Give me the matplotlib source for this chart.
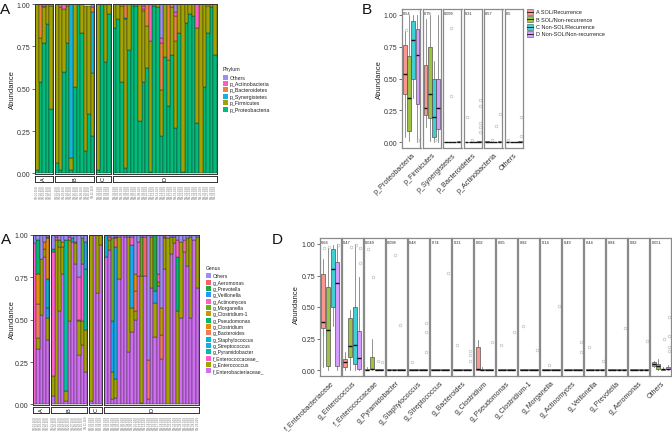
import matplotlib
matplotlib.use("Agg")
import matplotlib.pyplot as plt
from matplotlib.patches import Rectangle
from matplotlib.colors import to_rgba
import numpy as np

plt.rcParams['font.family'] = ['Liberation Sans', 'DejaVu Sans']

# ---------------- data ----------------
GROUPS = ["A", "B", "C", "D"]
GROUP_SIZES = [5, 11, 4, 29]
SAMPLES = ["SR.01.16S", "SR.02.16S", "SR.03.16S", "SR.04.16S", "SR.05.16S",
           "SN.01.16S", "SN.02.16S", "SN.03.16S", "SN.04.16S", "SN.05.16S", "SN.06.16S",
           "SN.07.16S", "SN.08.16S", "SN.09.16S", "SN.10.16S", "SN.11.16S",
           "NR.01.16S", "NR.02.16S", "NR.03.16S", "NR.04.16S",
           "NN.01.16S", "NN.02.16S", "NN.03.16S", "NN.04.16S", "NN.05.16S", "NN.06.16S",
           "NN.07.16S", "NN.08.16S", "NN.09.16S", "NN.10.16S", "NN.11.16S", "NN.12.16S",
           "NN.13.16S", "NN.14.16S", "NN.15.16S", "NN.16.16S", "NN.17.16S", "NN.18.16S",
           "NN.19.16S", "NN.20.16S", "NN.21.16S", "NN.22.16S", "NN.23.16S", "NN.24.16S",
           "NN.25.16S", "NN.26.16S", "NN.27.16S", "NN.28.16S", "NN.29.16S"]

# Phylum relative abundance per sample (groups A | B | C | D)
p_Proteobacteria = [.02, .54, .77, .88, .38,
                    .06, .02, .60, .77, .02, .51, 1.0, .83, .13, .35, .22,
                    .02, 1.0, .66, .94,
                    .86, .91, .54, .03, .73, 1.0, .99, .31, .54, .62, .01, .99, .98, .22, .69,
                    .40, .70, .27, .83, .01, .89, .94, .93, .30, 0, .51, .83, .98, .70]
p_Firmicutes = [.98, .26, .21, .12, .61,
                .94, .96, .37, .22, .07, .49, 0, .17, .86, .64, .37,
                .98, 0, .34, .06,
                .14, .09, .45, .88, .27, 0, .01, .69, .42, .25, .77, .01, .02, .27, .31,
                .27, .28, .51, .17, .99, .11, .06, .07, .56, 1.0, .49, .16, .02, .30]
p_Synergistetes = [0, 0, 0, 0, 0,
                   0, 0, 0, 0, .91, 0, 0, 0, 0, 0, .36,
                   0, 0, 0, 0,
                   0, 0, 0, .01, 0, 0, 0, 0, 0, 0, 0, 0, 0, 0, 0,
                   0, 0, 0, 0, 0, 0, 0, 0, 0, 0, 0, 0, 0, 0]
p_Bacteroidetes = [0, .20, 0, 0, 0,
                   0, 0, 0, 0, 0, 0, 0, 0, 0, 0, .03,
                   0, 0, 0, 0,
                   0, 0, 0, .08, 0, 0, 0, 0, .01, .13, 0, 0, 0, .28, 0,
                   .33, .02, .15, 0, 0, 0, 0, 0, 0, 0, 0, 0, 0, 0]
p_Actinobacteria = [0, 0, .01, 0, 0,
                    0, .02, .03, 0, 0, 0, 0, 0, 0, 0, 0,
                    0, 0, 0, 0,
                    0, 0, 0, 0, 0, 0, 0, 0, .02, 0, .22, 0, 0, .03, 0,
                    0, 0, .02, 0, 0, 0, 0, 0, .14, 0, 0, 0, 0, 0]
p_Others = [0, 0, .01, 0, .01,
            0, 0, 0, .01, 0, 0, 0, 0, 0, 0, .02,
            0, 0, 0, 0,
            0, 0, .01, 0, 0, 0, 0, 0, .01, 0, 0, 0, 0, .20, 0,
            0, 0, .05, 0, 0, 0, 0, 0, 0, 0, 0, .01, 0, 0]

PHYLA = ["p_Proteobacteria", "p_Firmicutes", "p_Synergistetes",
         "p_Bacteroidetes", "p_Actinobacteria", "Others"]
PHYLUM_VALUES = [p_Proteobacteria, p_Firmicutes, p_Synergistetes,
                 p_Bacteroidetes, p_Actinobacteria, p_Others]
PHYLUM_COLORS = ["#00BC7A", "#A2A200", "#14B4DA", "#EE8238", "#FF5EC0", "#9D8EF4"]

# Genus relative abundance per sample
g_Enterobacteriaceae = [0, .33, .53, .87, .38,
                        .05, 0, .55, .77, .02, .49, .96, .83, .29, .35, .19,
                        .02, 1.0, .66, .94,
                        .87, .91, .03, .04, .74, 1.0, .99, .31, .43, .50, .76, .01, .76, .03, .69,
                        .40, .70, .27, .80, 0, .89, .95, 0, .51, .90, .82, .51, .97, .69]
g_Enterococcus = [0, .06, .33, .05, .13,
                  .12, .97, .38, .16, .06, .48, 0, .12, .20, .14, .25,
                  .98, 0, .34, .06,
                  0, .06, .16, .11, .25, 0, 0, .68, .14, .05, 0, .75, 0, 0, .30,
                  .20, .02, 0, .18, .98, .10, .04, .55, .45, 0, .16, .48, 0, .30]
g_Enterococcaceae = [.95, 0, 0, 0, 0,
                     .73, 0, 0, 0, 0, 0, 0, 0, 0, .34, 0,
                     0, 0, 0, 0,
                     0, 0, 0, 0, 0, 0, 0, 0, 0, 0, 0, 0, 0, 0, 0,
                     0, 0, 0, 0, 0, 0, 0, 0, 0, 0, 0, 0, 0, 0]
g_Pyramidobacter = [0, 0, 0, 0, 0,
                    0, 0, 0, 0, .89, 0, 0, 0, 0, 0, .36,
                    0, 0, 0, 0,
                    0, 0, 0, 0, 0, 0, 0, 0, 0, 0, 0, 0, 0, 0, 0,
                    0, 0, 0, 0, 0, 0, 0, 0, 0, 0, 0, 0, 0, 0]
g_Streptococcus = [0, 0, 0, 0, .06,
                   0, 0, 0, 0, 0, 0, 0, 0, 0, 0, .16,
                   0, 0, 0, 0,
                   0, 0, .30, .78, 0, 0, 0, 0, .37, 0, 0, 0, 0, 0, 0,
                   .07, 0, 0, 0, 0, 0, 0, 0, 0, 0, 0, 0, 0, 0]
g_Staphylococcus = [0, 0, 0, 0, .17,
                    0, 0, 0, 0, 0, 0, .02, 0, 0, 0, 0,
                    0, 0, 0, 0,
                    .13, 0, 0, 0, 0, 0, 0, 0, 0, 0, 0, 0, 0, 0, 0,
                    0, 0, 0, 0, 0, 0, 0, 0, 0, 0, 0, 0, 0, 0]
g_Bacteroides = [0, .20, 0, 0, 0,
                 0, 0, 0, 0, 0, 0, 0, .01, 0, 0, 0,
                 0, 0, 0, 0,
                 0, 0, 0, .05, 0, 0, 0, 0, 0, .12, 0, 0, 0, .23, 0,
                 0, 0, .14, 0, 0, 0, 0, 0, 0, 0, 0, 0, 0, 0]
g_Clostridium = [0, .18, 0, .04, .24,
                 0, 0, 0, .03, 0, 0, 0, 0, 0, 0, 0,
                 0, 0, 0, 0,
                 0, 0, 0, 0, 0, 0, 0, 0, 0, .10, 0, 0, 0, 0, 0,
                 0, 0, 0, 0, 0, 0, 0, 0, 0, 0, 0, 0, 0, 0]
g_Pseudomonas = [0, .20, 0, 0, 0,
                 .02, 0, 0, 0, 0, 0, 0, 0, 0, 0, 0,
                 0, 0, 0, 0,
                 0, 0, 0, .01, 0, 0, 0, 0, 0, 0, 0, 0, 0, 0, 0,
                 0, 0, 0, 0, 0, 0, 0, .32, 0, 0, 0, 0, 0, 0]
g_Clostridium1 = [0, 0, 0, 0, 0,
                  0, 0, 0, 0, 0, 0, 0, 0, .01, 0, 0,
                  0, 0, 0, 0,
                  0, 0, 0, 0, 0, 0, 0, 0, 0, 0, 0, 0, 0, 0, 0,
                  0, 0, .16, 0, 0, 0, 0, 0, 0, 0, 0, 0, 0, 0]
g_Morganella = [0, 0, 0, 0, 0,
                0, 0, .04, 0, 0, 0, 0, 0, 0, .15, 0,
                0, 0, 0, 0,
                0, 0, .49, 0, 0, 0, 0, 0, 0, 0, 0, .23, 0, 0, 0,
                0, 0, 0, 0, 0, 0, 0, 0, 0, 0, 0, 0, 0, 0]
g_Actinomyces = [0, 0, 0, 0, 0,
                 0, 0, 0, 0, 0, .02, 0, 0, .25, 0, 0,
                 0, 0, 0, 0,
                 0, 0, 0, 0, 0, 0, 0, 0, .05, 0, .20, 0, 0, 0, 0,
                 0, .05, 0, .01, 0, 0, 0, .10, 0, .07, 0, 0, 0, 0]
g_Veillonella = [0, 0, 0, 0, .01,
                 0, 0, 0, 0, 0, 0, 0, 0, 0, 0, 0,
                 0, 0, 0, 0,
                 0, 0, 0, 0, 0, 0, 0, 0, 0, 0, 0, 0, 0, 0, 0,
                 0, 0, 0, 0, 0, 0, 0, 0, 0, 0, 0, 0, 0, 0]
g_Prevotella = [0, 0, 0, 0, 0,
                0, 0, 0, 0, 0, 0, 0, 0, 0, 0, 0,
                0, 0, 0, 0,
                0, 0, 0, 0, 0, 0, 0, 0, 0, 0, 0, 0, 0, 0, 0,
                .33, 0, 0, 0, 0, 0, 0, 0, 0, 0, 0, 0, 0, 0]
g_Aeromonas = [0, 0, 0, 0, 0,
               0, .02, 0, 0, 0, 0, 0, 0, 0, 0, 0,
               0, 0, 0, 0,
               0, .02, 0, 0, 0, 0, 0, 0, 0, 0, 0, 0, .23, 0, 0,
               0, 0, 0, .01, 0, 0, 0, 0, 0, 0, 0, 0, 0, 0]
g_Others = [.05, .03, .14, .04, .01,
            .08, .01, .03, .04, .03, .01, .02, .04, .25, .02, .04,
            0, 0, 0, 0,
            0, .01, .02, .01, .01, 0, .01, .01, .01, .23, .04, .01, .01, .74, .01,
            0, .23, .43, 0, .02, .01, .01, .03, .04, .03, .02, .01, .03, .01]

GENERA = ["f_Enterobacteriaceae_", "g_Enterococcus", "f_Enterococcaceae_", "g_Pyramidobacter",
          "g_Streptococcus", "g_Staphylococcus", "g_Bacteroides", "g_Clostridium",
          "g_Pseudomonas", "g_Clostridium-1", "g_Morganella", "g_Actinomyces",
          "g_Veillonella", "g_Prevotella", "g_Aeromonas", "Others"]
GENUS_VALUES = [g_Enterobacteriaceae, g_Enterococcus, g_Enterococcaceae, g_Pyramidobacter,
                g_Streptococcus, g_Staphylococcus, g_Bacteroides, g_Clostridium,
                g_Pseudomonas, g_Clostridium1, g_Morganella, g_Actinomyces,
                g_Veillonella, g_Prevotella, g_Aeromonas, g_Others]
GENUS_COLORS = ["#D06EF2", "#A3A300", "#FF5FCF", "#00C0A0",
                "#17A9EC", "#00B9CF", "#F2795E", "#E88A10",
                "#00B96E", "#C59A00", "#6AAE1E", "#FF5FBE",
                "#2A95FF", "#21A84A", "#F4646E", "#9C8DF6"]

# Box plot panels
BOX_GROUP_LABELS = ["A SOL/Recurrence", "B SOL/Non-recurrence",
                    "C Non-SOL/Recurrence", "D Non-SOL/Non-recurrence"]
BOX_COLORS = ["#F8766D", "#7CAE00", "#00BFC4", "#C77CFF"]

B_FACETS = ["p_Proteobacteria", "p_Firmicutes", "p_Synergistetes",
            "p_Bacteroidetes", "p_Actinobacteria", "Others"]
B_PVALUES = ["0.54", "0.79", "0.099", "0.31", "0.57", "0.5"]
# per group: [q1, median, q3, whisker_low, whisker_high] per facet
B_STATS = {
    "A": [[.38, .535, .76, .04, .87], [.21, .27, .61, .12, .97], [0, 0, .004, 0, .004],
          [0, 0, .004, 0, .004], [0, .004, .008, 0, .01], [0, 0, .004, 0, .004]],
    "B": [[.09, .35, .68, .01, 1.0], [.19, .375, .75, .01, 1.0], [0, 0, .004, 0, .004],
          [0, 0, .004, 0, .004], [0, 0, .004, 0, .004], [0, 0, .004, 0, .004]],
    "C": [[.50, .80, .95, .35, 1.0], [.04, .195, .50, 0, .64], [0, 0, .004, 0, .004],
          [0, 0, .004, 0, .004], [0, 0, .004, 0, .004], [0, 0, .004, 0, .004]],
    "D": [[.30, .685, .89, 0, 1.0], [.10, .27, .50, 0, 1.0], [0, 0, .006, 0, .006],
          [0, 0, .008, 0, .01], [0, 0, .008, 0, .01], [0, 0, .008, 0, .01]],
}
# outlying points: (facet, group, value)
B_POINTS = [(0, 0, .88), (0, 3, .02), (1, 2, .02), (2, 1, .90), (2, 1, .36),
            (3, 0, .20), (3, 3, .33), (3, 3, .28), (3, 3, .15), (3, 3, .12), (3, 3, .08),
            (3, 1, .02), (4, 3, .22), (4, 2, .13), (4, 1, .02), (5, 3, .20), (5, 3, .05),
            (5, 0, .02)]

D_FACETS = ["f_Enterobacteriaceae", "g_Enterococcus", "f_Enterococcaceae", "g_Pyramidobacter",
            "g_Staphylococcus", "g_Streptococcus", "g_Bacteroides", "g_Clostridium",
            "g_Pseudomonas", "g_Clostridium-1", "g_Morganella", "g_Actinomyces",
            "g_Veillonella", "g_Prevotella", "g_Aeromonas", "Others"]
D_PVALUES = ["0.66", "0.47", "0.049", "0.098", "0.48", "0.74", "0.31", "0.02",
             "0.65", "0.82", "0.14", "0.49", "0.44", "0.84", "0.82", "0.051"]
Z = [0, 0, .004, 0, .004]
D_STATS = {
    "A": [[.33, .38, .76, .02, .88], [.02, .065, .09, 0, .14], [0, 0, .01, 0, .02], Z, Z, Z, Z,
          [0, .005, .18, 0, .24], Z, Z, Z, Z, Z, Z, Z, [.035, .047, .06, .02, .075]],
    "B": [[.03, .32, .66, 0, .97], [.10, .19, .41, 0, .48], [.01, .01, .10, 0, .25], Z, Z, Z, Z,
          [0, 0, .01, 0, .02], Z, Z, Z, Z, Z, Z, Z, [.01, .035, .05, 0, .09]],
    "C": [[.50, .80, .96, .35, .99], [.05, .20, .50, 0, 1.0], Z, Z, Z, Z, Z,
          Z, Z, Z, Z, Z, Z, Z, Z, [0, .005, .01, 0, .02]],
    "D": [[.03, .69, .86, 0, 1.0], [.01, .095, .31, 0, .74], Z, Z, Z, Z, Z,
          Z, Z, Z, Z, Z, Z, Z, Z, [.005, .01, .02, 0, .04]],
}
D_POINTS = [(0, 0, .97), (0, 1, .98), (0, 3, .99), (1, 1, .98), (1, 3, .97), (1, 3, .85),
            (1, 2, .99), (2, 0, .96), (2, 1, .74), (2, 2, .07), (2, 3, .06), (3, 1, .91),
            (3, 2, .36), (4, 3, .37), (4, 3, .30), (4, 3, .14), (4, 0, .06), (5, 3, .77),
            (6, 0, .20), (6, 3, .15), (6, 3, .12), (6, 3, .07), (7, 3, .22), (8, 3, .30),
            (8, 0, .20), (9, 0, .35), (9, 3, .16), (10, 3, .51), (10, 1, .04),
            (11, 3, .22), (11, 3, .14), (12, 0, .18), (12, 3, .07), (13, 3, .33),
            (14, 3, .23), (15, 3, .42), (15, 3, .27), (15, 3, .18), (15, 3, .15), (15, 2, .25)]

# ---------------- figure ----------------
W, H = 672, 435
fig = plt.figure(figsize=(W / 100, H / 100), dpi=100)
AX_TXT = "#333333"


def add_ax(x0, y0, x1, y1):
    return fig.add_axes([x0 / W, 1 - y1 / H, (x1 - x0) / W, (y1 - y0) / H])


def style_y(ax, first, fs=5):
    ax.set_yticks([0, .25, .5, .75, 1])
    if first:
        ax.set_yticklabels(["0.00", "0.25", "0.50", "0.75", "1.00"], fontsize=fs, color=AX_TXT)
        ax.tick_params(axis="y", length=2, width=0.5, pad=1.5, color="#333333")
    else:
        ax.tick_params(axis="y", left=False, labelleft=False)


def stacked_panel(x0, x1, y0, y1, names, values, colors, gap=2.0):
    n = sum(GROUP_SIZES)
    bw = (x1 - x0 - gap * (len(GROUPS) - 1)) / n
    start, cur = 0, x0
    for gi, (g, size) in enumerate(zip(GROUPS, GROUP_SIZES)):
        ax = add_ax(cur, y0, cur + size * bw, y1)
        xs = np.arange(size)
        bottom = np.zeros(size)
        for name, vals, col in zip(names, values, colors):
            v = np.array(vals[start:start + size], dtype=float)
            m = v > 0
            ax.bar(xs[m], v[m], bottom=bottom[m], width=1.0, color=col,
                   edgecolor="#262626", linewidth=0.3)
            bottom += v
        ax.set_xlim(-0.5, size - 0.5)
        ax.set_ylim(-0.003, 1.0)
        style_y(ax, gi == 0)
        ax.set_xticks(xs)
        ax.set_xticklabels(SAMPLES[start:start + size], rotation=90, fontsize=2.1,
                           color="#777777")
        ax.tick_params(axis="x", length=0, pad=7)
        for s in ax.spines.values():
            s.set_color("#333333")
            s.set_linewidth(0.7)
        # strip
        sax = add_ax(cur, y1 + 1.5, cur + size * bw, y1 + 7.5)
        sax.set_xticks([])
        sax.set_yticks([])
        for s in sax.spines.values():
            s.set_color("#333333")
            s.set_linewidth(0.7)
        sax.text(0.5, 0.5, g, rotation=90, ha="center", va="center", fontsize=4,
                 transform=sax.transAxes)
        start += size
        cur += size * bw + gap


BOX_POS = [-0.3375, -0.1125, 0.1125, 0.3375]


def box_panel(x0, x1, y0, y1, facets, pvals, stats, points, gap, xfs):
    nf = len(facets)
    fw = (x1 - x0 - gap * (nf - 1)) / nf
    for i, name in enumerate(facets):
        left = x0 + i * (fw + gap)
        ax = add_ax(left, y0, left + fw, y1)
        for gi, g in enumerate(GROUPS):
            q1, med, q3, lo, hi = stats[g][i]
            ax.bxp([{"med": med, "q1": q1, "q3": q3, "whislo": lo, "whishi": hi,
                     "fliers": []}],
                   positions=[BOX_POS[gi]], widths=0.2, patch_artist=True,
                   showfliers=False, showcaps=False,
                   boxprops=dict(facecolor=to_rgba(BOX_COLORS[gi], 0.75),
                                 edgecolor="#555555", linewidth=0.5),
                   medianprops=dict(color="#111111", linewidth=1.0),
                   whiskerprops=dict(color="#666666", linewidth=0.5))
        for (fi, gi, v) in points:
            if fi == i:
                ax.plot([BOX_POS[gi] + 0.05], [v], "o", mfc="none", mec="#b5b5b5",
                        ms=2.0, mew=0.4)
        ax.set_xlim(-0.5, 0.5)
        ax.set_ylim(-0.05, 1.05)
        style_y(ax, i == 0, fs=5.0)
        ax.set_xticks([0])
        ax.set_xticklabels([name], rotation=45, ha="right", rotation_mode="anchor",
                           fontsize=xfs, color=AX_TXT)
        ax.tick_params(axis="x", length=0, pad=2)
        for s in ax.spines.values():
            s.set_color("#8a8a8a")
            s.set_linewidth(0.9)
        ax.text(0.06, 0.985, pvals[i], transform=ax.transAxes, fontsize=2.8,
                ha="left", va="top", color="#222222")


def manual_legend(x, y_title, title, labels, colors, dy, sq, fs, tx):
    if title:
        fig.text(x / W, 1 - y_title / H, title, fontsize=fs, va="center", ha="left",
                 color="#222222")
    y = y_title + dy * 1.25 if title else y_title
    for lab, col in zip(labels, colors):
        fig.patches.append(Rectangle((x / W, 1 - (y + sq / 2) / H), sq / W, sq / H,
                                     transform=fig.transFigure, facecolor=col,
                                     edgecolor="none"))
        fig.text((x + tx) / W, 1 - y / H, lab, fontsize=fs, va="center", ha="left",
                 color="#222222")
        y += dy


# Panel A (phylum)
stacked_panel(35, 217, 5, 175, PHYLA, PHYLUM_VALUES, PHYLUM_COLORS, gap=2.0)
fig.text(12 / W, 1 - 90 / H, "Abundance", rotation=90, fontsize=5.5, ha="center",
         va="center", color="#222222")
manual_legend(223, 70, "Phylum", PHYLA[::-1], PHYLUM_COLORS[::-1], 6.4, 5, 3.8, 7)

# Panel B (phylum boxplots)
box_panel(402, 523, 9.6, 149.4, B_FACETS, B_PVALUES, B_STATS, B_POINTS, 2.0, 5.2)
fig.text(379 / W, 1 - 80 / H, "Abundance", rotation=90, fontsize=5.5, ha="center",
         va="center", color="#222222")
ly = 12.7
for lab, col in zip(BOX_GROUP_LABELS, BOX_COLORS):
    fig.patches.append(Rectangle((527 / W, 1 - (ly + 3) / H), 6 / W, 6 / H,
                                 transform=fig.transFigure,
                                 facecolor=to_rgba(col, 0.75), edgecolor="#555555",
                                 linewidth=0.4))
    fig.lines.append(plt.Line2D([527 / W, 533 / W], [1 - ly / H, 1 - ly / H],
                                transform=fig.transFigure, color="#111111", lw=0.6))
    fig.text(536 / W, 1 - ly / H, lab, fontsize=4.0, va="center", ha="left",
             color="#222222")
    ly += 7.4

# Panel A (genus)
stacked_panel(33, 199, 236, 406, GENERA, GENUS_VALUES, GENUS_COLORS, gap=2.0)
fig.text(12 / W, 1 - 320 / H, "Abundance", rotation=90, fontsize=5.5, ha="center",
         va="center", color="#222222")
manual_legend(206, 269, "Genus", GENERA[::-1], GENUS_COLORS[::-1], 6.33, 5, 3.6, 6.5)

# Panel D (genus boxplots)
box_panel(320, 671, 238.7, 377.3, D_FACETS, D_PVALUES, D_STATS, D_POINTS, 1.5, 5.0)
fig.text(296 / W, 1 - 305 / H, "Abundance", rotation=90, fontsize=5.5, ha="center",
         va="center", color="#222222")

# panel letters
for (x, y, t) in [(0, 10, "A"), (362, 10, "B"), (1, 240, "A"), (272, 240, "D")]:
    fig.text(x / W, 1 - y / H, t, fontsize=11, ha="left", va="center", color="#111111")

fig.savefig("out.png", dpi=100)
